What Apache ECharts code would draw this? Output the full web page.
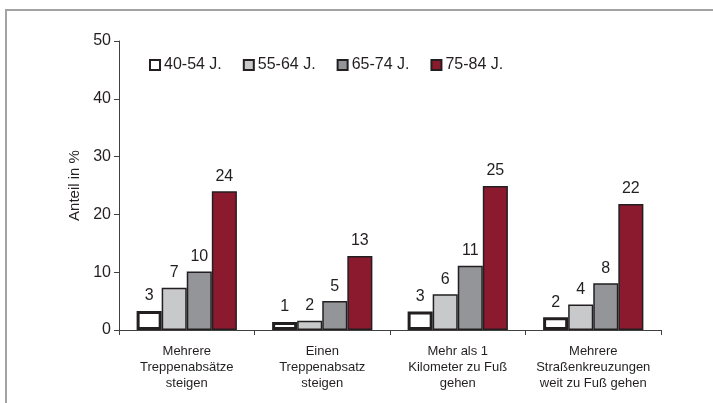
<!DOCTYPE html>
<html>
<head>
<meta charset="utf-8">
<script src="https://cdn.jsdelivr.net/npm/echarts@6/dist/echarts.min.js"></script>
<style>
  html, body { margin: 0; padding: 0; background: #fff; }
  #chart { width: 713px; height: 403px; }
</style>
</head>
<body>
<div id="chart"></div>
<script>
// categories (x axis, multi-line)
const categories = [
  'Mehrere\nTreppenabsätze\nsteigen',
  'Einen\nTreppenabsatz\nsteigen',
  'Mehr als 1\nKilometer zu Fuß\ngehen',
  'Mehrere\nStraßenkreuzungen\nweit zu Fuß gehen'
];
const seriesNames = ['40-54 J.', '55-64 J.', '65-74 J.', '75-84 J.'];

// bar heights
const age4054 = [3.3, 1.4, 3.2, 2.2];
const age5564 = [7.3, 1.6, 6.2, 4.4];
const age6574 = [10.1, 5.0, 11.1, 8.1];
const age7584 = [24.0, 12.8, 24.9, 21.8];

// printed labels above bars
const label4054 = [3, 1, 3, 2];
const label5564 = [7, 2, 6, 4];
const label6574 = [10, 5, 11, 8];
const label7584 = [24, 13, 25, 22];

const yTicks = [0, 10, 20, 30, 40, 50];

const values = [age4054, age5564, age6574, age7584];
const labels = [label4054, label5564, label6574, label7584];
const fills = ['#ffffff', '#c8c9cb', '#939598', '#8c1a2f'];
const borderWidths = [3, 1.5, 1.5, 1.5];
const textColor = '#231f20';

const chart = echarts.init(document.getElementById('chart'));

const series = values.map((vals, i) => ({
  name: seriesNames[i],
  type: 'bar',
  data: vals,
  barGap: '0%',
  barCategoryGap: '26%',
  itemStyle: {
    color: fills[i],
    borderColor: '#231f20',
    borderWidth: borderWidths[i]
  },
  label: {
    show: true,
    position: 'top',
    distance: 7,
    fontFamily: 'Liberation Sans',
    fontSize: 16,
    color: textColor,
    formatter: p => labels[i][p.dataIndex]
  },
  emphasis: { disabled: true }
}));

chart.setOption({
  animation: false,
  backgroundColor: '#ffffff',
  graphic: [{
    type: 'rect',
    shape: { x: 6, y: 10, width: 900, height: 600 },
    style: { fill: 'none', stroke: '#a3a3a3', lineWidth: 2 },
    silent: true
  }],
  legend: {
    left: 144,
    top: 52,
    itemWidth: 10,
    itemHeight: 10,
    itemGap: 21,
    icon: 'rect',
    textStyle: {
      fontFamily: 'Liberation Sans',
      fontSize: 16,
      color: textColor,
      padding: [0, 0, 0, -1]
    },
    data: seriesNames
  },
  grid: { left: 119, right: 52, top: 41, bottom: 73 },
  xAxis: {
    type: 'category',
    data: categories,
    axisLine: { lineStyle: { color: '#404040', width: 1 } },
    axisTick: { show: true, length: 5, inside: false, alignWithLabel: false, lineStyle: { color: '#404040' } },
    axisLabel: {
      interval: 0,
      margin: 13,
      fontFamily: 'Liberation Sans',
      fontSize: 13,
      lineHeight: 16,
      color: textColor
    }
  },
  yAxis: {
    type: 'value',
    min: yTicks[0],
    max: yTicks[yTicks.length - 1],
    interval: 10,
    name: 'Anteil in %',
    nameLocation: 'middle',
    nameGap: 36,
    nameRotate: 90,
    nameTextStyle: { fontFamily: 'Liberation Sans', fontSize: 15, color: textColor },
    axisLine: { show: true, lineStyle: { color: '#404040', width: 1 } },
    axisTick: { show: true, length: 5, lineStyle: { color: '#404040' } },
    splitLine: { show: false },
    axisLabel: {
      margin: 8,
      fontFamily: 'Liberation Sans',
      fontSize: 16,
      color: textColor
    }
  },
  series: series
});
</script>
</body>
</html>
